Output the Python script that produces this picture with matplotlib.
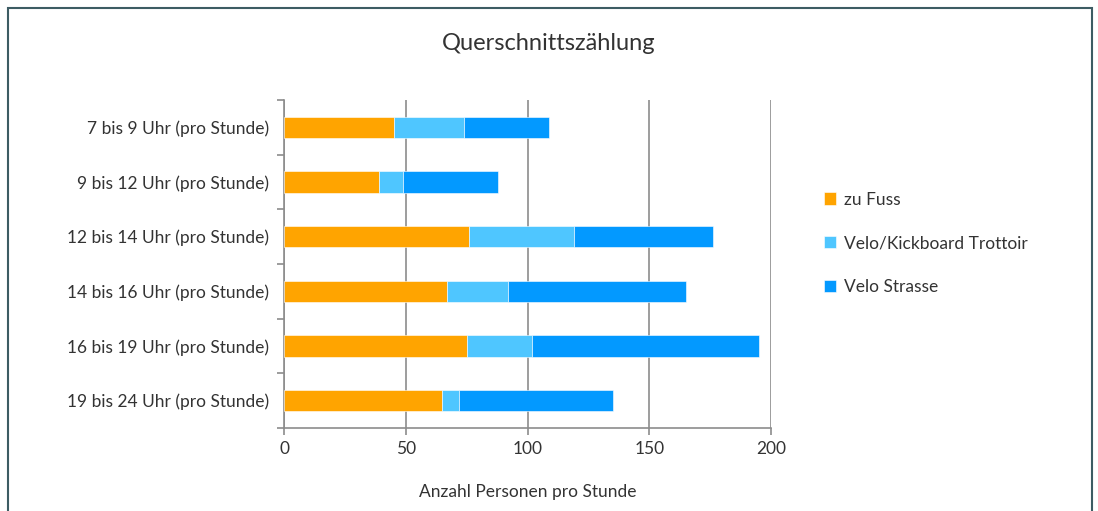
import numpy as np
import matplotlib.pyplot as plt
from matplotlib.patches import Rectangle

# Daten
zeiten = ["7 bis 9 Uhr (pro Stunde)", "9 bis 12 Uhr (pro Stunde)", "12 bis 14 Uhr (pro Stunde)",
          "14 bis 16 Uhr (pro Stunde)", "16 bis 19 Uhr (pro Stunde)", "19 bis 24 Uhr (pro Stunde)"]
zu_fuss = [45, 39, 76, 67, 75, 65]
velo_trottoir = [29, 10, 43, 25, 27, 7]
velo_strasse = [35, 39, 57, 73, 93, 63]
serien = ["zu Fuss", "Velo/Kickboard Trottoir", "Velo Strasse"]
farben = ["#FFA400", "#4FC6FF", "#0399FF"]

plt.rcParams['font.family'] = ['Lato', 'DejaVu Sans']
textfarbe = "#333333"
linienfarbe = "#8c8c8c"

fig = plt.figure(figsize=(10.98, 5.11), dpi=100)
ax = fig.add_axes([284 / 1098, 1 - 428 / 511, 487 / 1098, 328 / 511])

y = np.arange(len(zeiten))
links = np.zeros(len(zeiten))
for werte, name, farbe in zip([zu_fuss, velo_trottoir, velo_strasse], serien, farben):
    ax.barh(y, werte, left=links, height=0.39, color=farbe, label=name,
            edgecolor="white", linewidth=0.4, zorder=3)
    links += np.array(werte)

ax.set_ylim(len(zeiten) - 0.5, -0.5)
ax.set_xlim(0, 200)
ax.set_xticks([0, 50, 100, 150, 200])
ax.set_yticks(y)
ax.set_yticklabels(zeiten)
ax.set_yticks(np.arange(-0.5, len(zeiten)), minor=True)
ax.tick_params(axis="y", which="major", length=0, pad=11, labelsize=12.5, labelcolor=textfarbe)
ax.tick_params(axis="y", which="minor", length=5, color=linienfarbe, width=1.2)
ax.tick_params(axis="x", length=5, color=linienfarbe, width=1.2, labelsize=12.5, labelcolor=textfarbe, pad=4)
ax.grid(axis="x", color=linienfarbe, linewidth=1.2, zorder=0)
for s in ["top", "right"]:
    ax.spines[s].set_visible(False)
for s in ["left", "bottom"]:
    ax.spines[s].set_color(linienfarbe)
    ax.spines[s].set_linewidth(1.2)
ax.set_xlabel("Anzahl Personen pro Stunde", fontsize=12.5, color=textfarbe, labelpad=20)

fig.text(0.5, 1 - 43 / 511, "Querschnittszählung", ha="center", va="center",
         fontsize=17, color=textfarbe)

fig.legend(loc="upper left", bbox_to_anchor=(808 / 1098, 1 - 176 / 511), frameon=False,
           fontsize=12.5, handlelength=0.7, handleheight=0.7, handletextpad=0.45,
           labelspacing=1.6, labelcolor=textfarbe)

# Rahmen
fig.patches.append(Rectangle((8 / 1098, -0.1), 1084 / 1098, 1.1 - 8 / 511,
                             transform=fig.transFigure, fill=False,
                             edgecolor="#3d5c63", linewidth=1.5))

fig.savefig("out.png", dpi=100)
